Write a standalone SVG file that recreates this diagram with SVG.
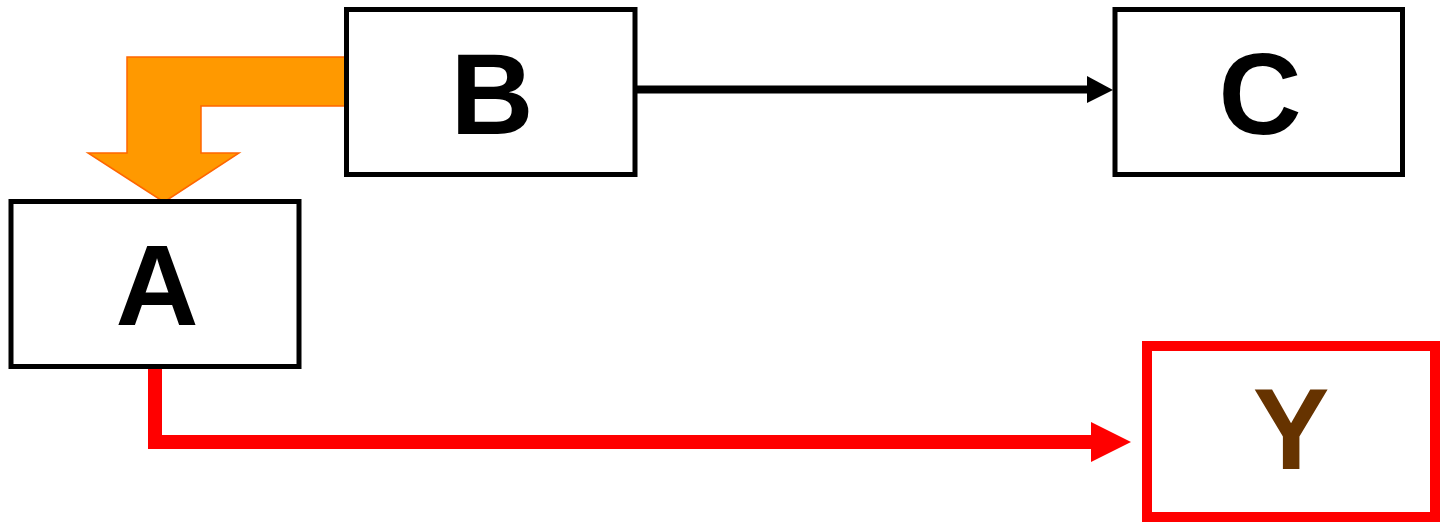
<svg xmlns="http://www.w3.org/2000/svg" width="1441" height="527" viewBox="0 0 1441 527">
<style>
.box{fill:#fff;stroke:#000;stroke-width:5}
.lbl{font-family:"Liberation Sans",Arial,sans-serif;font-weight:bold;font-size:115px;text-anchor:middle}
</style>
<rect width="1441" height="527" fill="#fff"/>
<g id="connectors">
<polygon points="127,57 348,57 348,106 201,106 201,153 239,153 164,202 88,153 127,153" fill="#FF9900" stroke="#FF6600" stroke-width="1.5" stroke-linejoin="miter"/>
<line x1="636" y1="89.5" x2="1090" y2="89.5" stroke="#000" stroke-width="8"/>
<polygon points="1087,76 1113,90 1087,103" fill="#000"/>
<polyline points="155,369 155,442 1093,442" fill="none" stroke="#FF0000" stroke-width="14" stroke-linejoin="miter"/>
<polygon points="1091,422 1131,442 1091,462" fill="#FF0000"/>
</g>
<g id="node-B">
<rect class="box" x="346.5" y="9.5" width="288.5" height="165"/>
<text class="lbl" x="492" y="134">B</text>
</g>
<g id="node-C">
<rect class="box" x="1115" y="9.5" width="287.5" height="165"/>
<text class="lbl" x="1260" y="134">C</text>
</g>
<g id="node-A">
<rect class="box" x="11" y="201.5" width="288" height="165"/>
<text class="lbl" x="157" y="325">A</text>
</g>
<g id="node-Y">
<rect x="1147" y="346" width="288" height="171" fill="#fff" stroke="#FF0000" stroke-width="10"/>
<text class="lbl" x="1291" y="469" fill="#663300">Y</text>
</g>
</svg>
